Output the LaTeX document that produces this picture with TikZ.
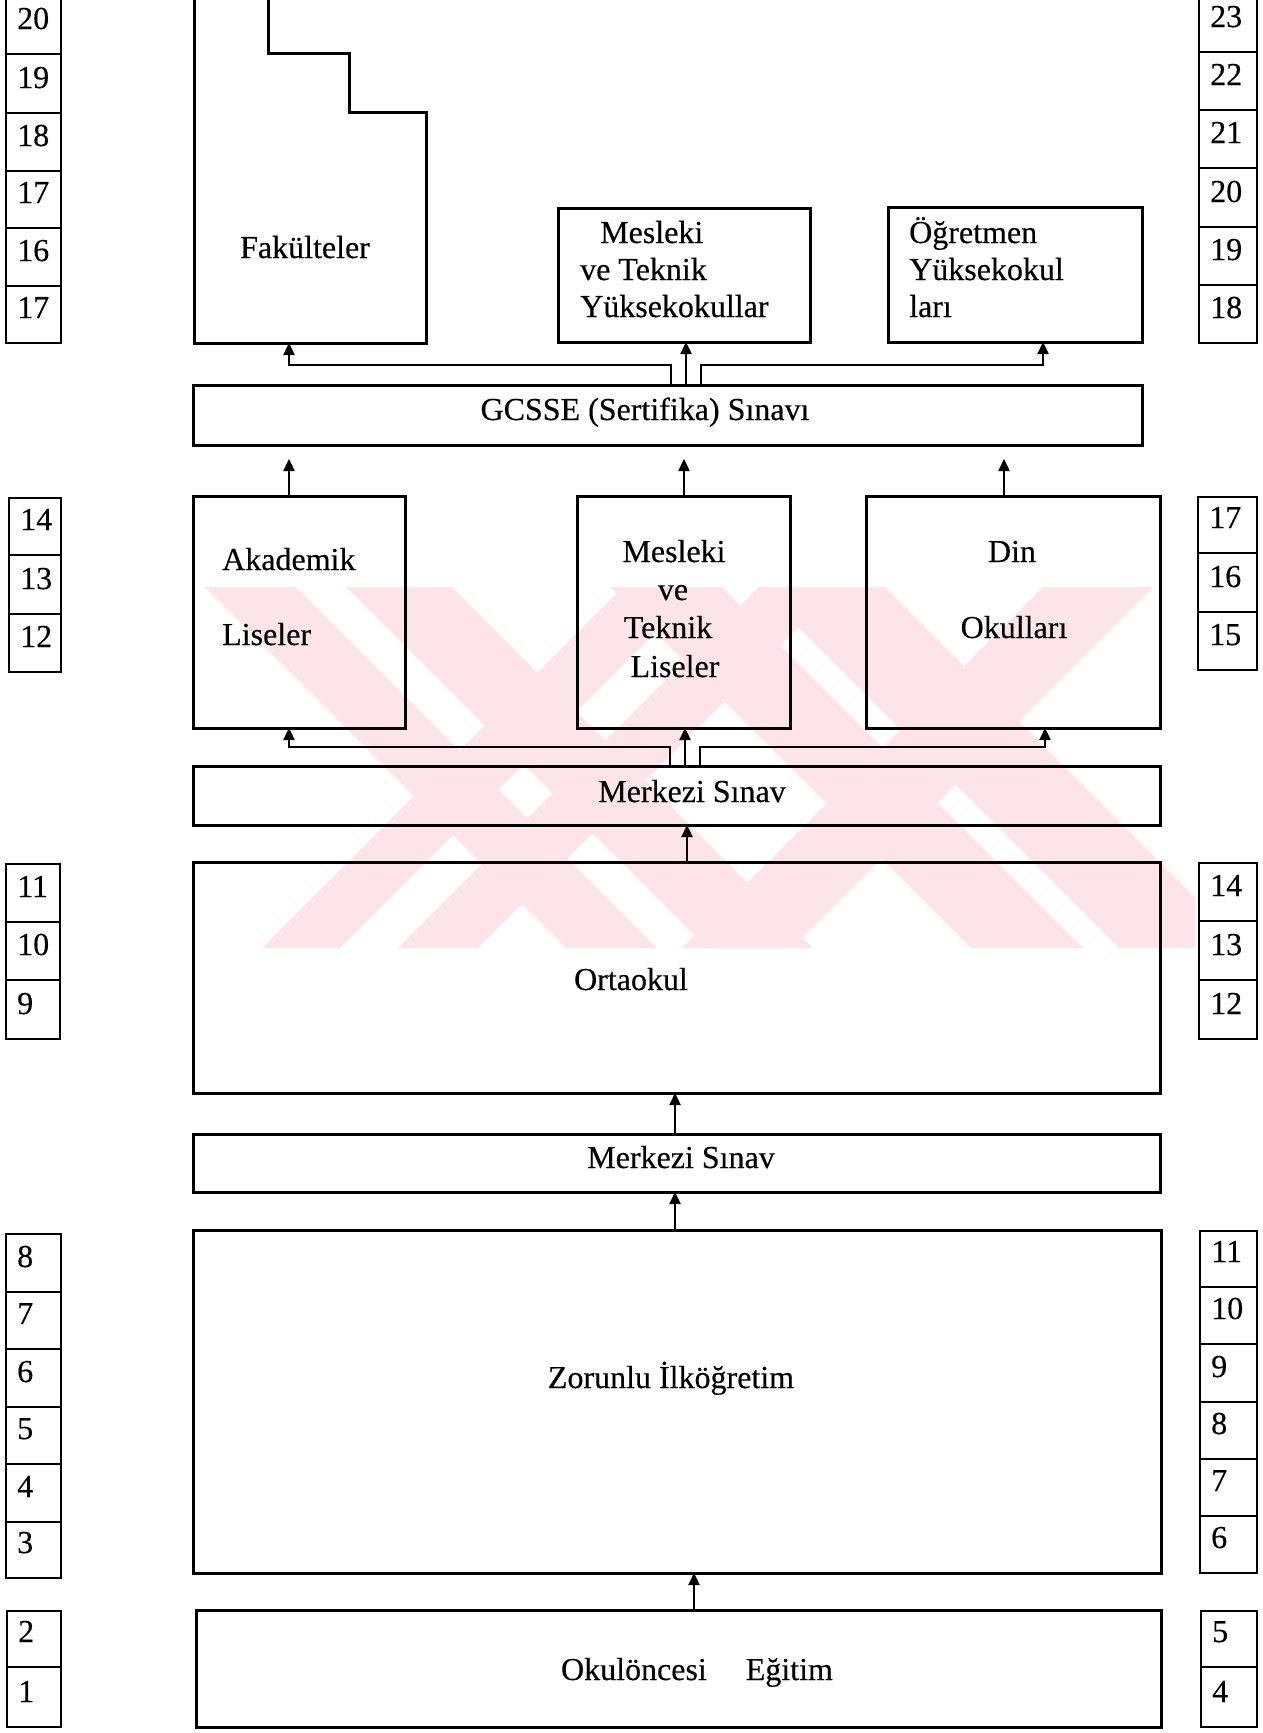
\documentclass[tikz,border=0pt]{standalone}
\usepackage{fontspec}
\setmainfont{Liberation Serif}[FakeBold=0.35]
\usetikzlibrary{arrows.meta,fit}
\definecolor{wmpink}{RGB}{253,228,233}
\tikzset{
  box/.style={draw, line width=3pt, inner sep=0pt, outer sep=0pt},
  cell/.style={draw, line width=2.6pt, inner sep=0pt, outer sep=0pt},
  txt/.style={font=\fontsize{32}{38}\selectfont, inner sep=0pt, anchor=base},
  ltxt/.style={txt, anchor=base west},
  arr/.style={line width=2.4pt, -{Triangle[width=11pt,length=12pt]}},
  wm/.style={fill=wmpink, draw=none},
}
\newcommand{\numcell}[6]{%
  \node (#1) [cell, fit={(#2,#3) (#4,#5)}] {};
  \node[ltxt] at ([xshift=11pt,yshift=25pt]#1.south west) {#6};}
% watermark stripes: \bstripe{a}{b} top range, going down-right; \fstripe{a}{b} bottom range, going up-right
\newcommand{\bstripe}[2]{\fill[wm] (#1,587) -- (#2,587) -- ({#2+361},948) -- ({#1+361},948) -- cycle;}
\newcommand{\fstripe}[2]{\fill[wm] (#1,948) -- (#2,948) -- ({#2+361},587) -- ({#1+361},587) -- cycle;}
\begin{document}
\begin{tikzpicture}[x=1pt,y=-1pt]
\useasboundingbox (0,0) rectangle (1263,1733);
\clip (0,0) rectangle (1263,1733);

% ---------- faint watermark ----------
\begin{scope}
  \clip (200,587) rectangle (1195,948);
  \bstripe{205}{296}
  \bstripe{346}{452}
  \bstripe{610}{722}
  \bstripe{758}{885}
  \fstripe{262}{340}
  \fstripe{398}{478}
  \fstripe{682}{792}
\end{scope}

% ---------- main boxes ----------
\node (fak)   [inner sep=0pt, outer sep=0pt, fit={(194,-5) (426,343)}] {};
\draw[line width=3pt] (268,-5) -- (268,53) -- (349,53) -- (349,112) -- (426,112) -- (fak.south east) -- (fak.south west) -- (fak.north west);
\node[txt] at (305,258) {Fakülteler};

\node (myo)   [box, fit={(558,208) (810,342)}] {};
\node[ltxt] at (600,243) {Mesleki};
\node[ltxt] at (580,280) {ve Teknik};
\node[ltxt] at (580,317) {Yüksekokullar};

\node (ogr)   [box, fit={(888,207) (1142,342)}] {};
\node[ltxt] at (909,243) {Öğretmen};
\node[ltxt] at (909,280) {Yüksekokul};
\node[ltxt] at (909,317) {ları};

\node (gcsse) [box, fit={(193,385) (1142,445)}] {};
\node[txt] at (645,420) {GCSSE (Sertifika) Sınavı};

\node (ak)    [box, fit={(193,496) (405,728)}] {};
\node[ltxt] at (222,570) {Akademik};
\node[ltxt] at (222,645) {Liseler};

\node (mtl)   [box, fit={(577,496) (790,728)}] {};
\node[txt] at (674,562) {Mesleki};
\node[txt] at (673,600) {ve};
\node[txt] at (668,638) {Teknik};
\node[txt] at (675,677) {Liseler};

\node (din)   [box, fit={(866,496) (1160,728)}] {};
\node[txt] at (1012,562) {Din};
\node[txt] at (1014,638) {Okulları};

\node (mer1)  [box, fit={(193,766) (1160,825)}] {};
\node[txt] at (692,802) {Merkezi Sınav};

\node (orta)  [box, fit={(193,862) (1160,1093)}] {};
\node[txt] at (631,990) {Ortaokul};

\node (mer2)  [box, fit={(193,1134) (1160,1192)}] {};
\node[txt] at (681,1168) {Merkezi Sınav};

\node (zor)   [box, fit={(193,1230) (1161,1573)}] {};
\node[txt] at (671,1388) {Zorunlu İlköğretim};

\node (okul)  [box, fit={(196,1610) (1161,1727)}] {};
\node[txt] at (697,1680) {Okulöncesi\hspace{39pt}Eğitim};

% ---------- connector x positions ----------
\coordinate (xa) at (289,0);
\coordinate (xb) at (671,0);
\coordinate (xc) at (686,0);
\coordinate (xd) at (701,0);
\coordinate (xe) at (1043,0);
\coordinate (hb1) at (0,365);
\coordinate (ya) at (289,0);
\coordinate (yb) at (670,0);
\coordinate (yc) at (685,0);
\coordinate (yd) at (700,0);
\coordinate (ye) at (1045,0);
\coordinate (hb2) at (0,747);
\coordinate (zm) at (684,0);
\coordinate (zd) at (1004,0);
\coordinate (o1) at (687,0);
\coordinate (o2) at (675,0);
\coordinate (o3) at (694,0);

% GCSSE -> higher education
\draw[arr] (gcsse.north -| xb) -- (xb |- hb1) -| (fak.south -| xa);
\draw[arr] (gcsse.north -| xc) -- (myo.south -| xc);
\draw[arr] (gcsse.north -| xd) -- (xd |- hb1) -| (ogr.south -| xe);

% lyceums -> GCSSE
\draw[arr, shorten >=14pt] (ak.north -| xa) -- (gcsse.south -| xa);
\draw[arr, shorten >=14pt] (mtl.north -| zm) -- (gcsse.south -| zm);
\draw[arr, shorten >=14pt] (din.north -| zd) -- (gcsse.south -| zd);

% Merkezi Sinav -> lyceums
\draw[arr] (mer1.north -| yb) -- (yb |- hb2) -| (ak.south -| ya);
\draw[arr] (mer1.north -| yc) -- (mtl.south -| yc);
\draw[arr] (mer1.north -| yd) -- (yd |- hb2) -| (din.south -| ye);

% lower chain
\draw[arr] (orta.north -| o1) -- (mer1.south -| o1);
\draw[arr] (mer2.north -| o2) -- (orta.south -| o2);
\draw[arr] (zor.north -| o2) -- (mer2.south -| o2);
\draw[arr] (okul.north -| o3) -- (zor.south -| o3);

% ---------- age / grade columns ----------
\numcell{La1}{6}{-10}{61}{54}{20}
\numcell{La2}{6}{54}{61}{113}{19}
\numcell{La3}{6}{113}{61}{171}{18}
\numcell{La4}{6}{171}{61}{228}{17}
\numcell{La5}{6}{228}{61}{286}{16}
\numcell{La6}{6}{286}{61}{343}{17}

\numcell{Ra1}{1199}{-10}{1257}{52}{23}
\numcell{Ra2}{1199}{52}{1257}{110}{22}
\numcell{Ra3}{1199}{110}{1257}{168}{21}
\numcell{Ra4}{1199}{168}{1257}{227}{20}
\numcell{Ra5}{1199}{227}{1257}{285}{19}
\numcell{Ra6}{1199}{285}{1257}{343}{18}

\numcell{Lb1}{9}{498}{61}{555}{14}
\numcell{Lb2}{9}{555}{61}{614}{13}
\numcell{Lb3}{9}{614}{61}{672}{12}

\numcell{Rb1}{1198}{497}{1257}{553}{17}
\numcell{Rb2}{1198}{553}{1257}{612}{16}
\numcell{Rb3}{1198}{612}{1257}{670}{15}

\numcell{Lc1}{6}{864}{60}{922}{11}
\numcell{Lc2}{6}{922}{60}{980}{10}
\numcell{Lc3}{6}{980}{60}{1039}{9}

\numcell{Rc1}{1199}{863}{1257}{921}{14}
\numcell{Rc2}{1199}{921}{1257}{980}{13}
\numcell{Rc3}{1199}{980}{1257}{1039}{12}

\numcell{Ld1}{6}{1234}{61}{1292}{8}
\numcell{Ld2}{6}{1292}{61}{1349}{7}
\numcell{Ld3}{6}{1349}{61}{1407}{6}
\numcell{Ld4}{6}{1407}{61}{1464}{5}
\numcell{Ld5}{6}{1464}{61}{1522}{4}
\numcell{Ld6}{6}{1522}{61}{1578}{3}

\numcell{Rd1}{1200}{1231}{1257}{1287}{11}
\numcell{Rd2}{1200}{1287}{1257}{1344}{10}
\numcell{Rd3}{1200}{1344}{1257}{1402}{9}
\numcell{Rd4}{1200}{1402}{1257}{1459}{8}
\numcell{Rd5}{1200}{1459}{1257}{1516}{7}
\numcell{Rd6}{1200}{1516}{1257}{1573}{6}

\numcell{Le1}{7}{1611}{61}{1667}{2}
\numcell{Le2}{7}{1667}{61}{1727}{1}

\numcell{Re1}{1201}{1611}{1257}{1667}{5}
\numcell{Re2}{1201}{1667}{1257}{1727}{4}
\end{tikzpicture}
\end{document}
